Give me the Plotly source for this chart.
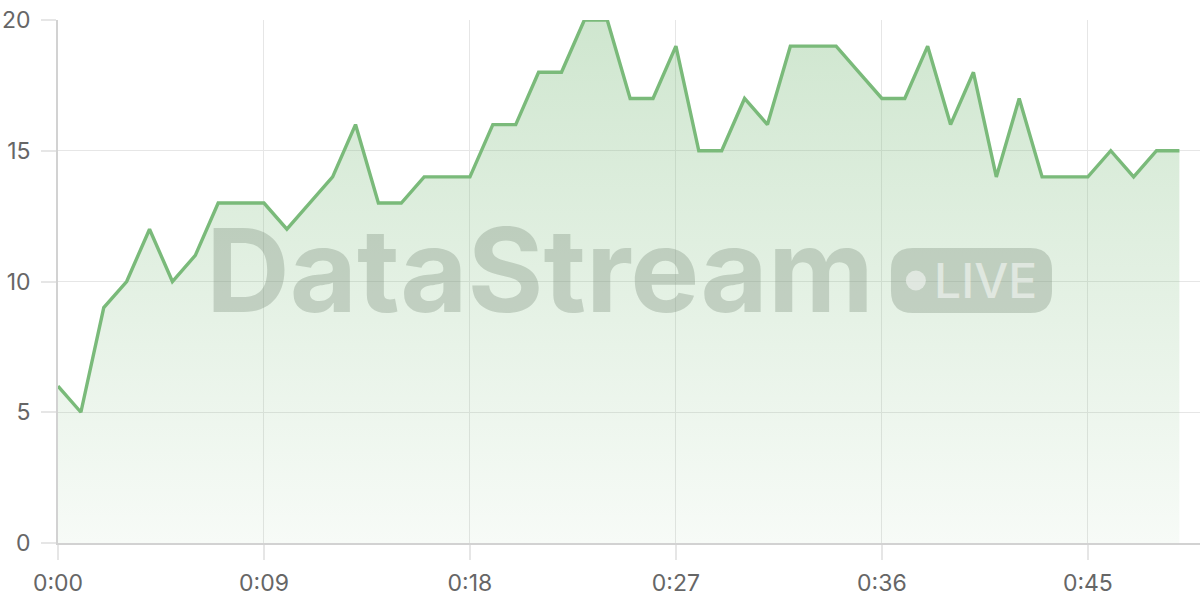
import plotly.graph_objects as go

# seconds since start and the sampled values
seconds = list(range(50))
values = [6, 5, 9, 10, 12, 10, 11, 13, 13, 13,
          12, 13, 14, 16, 13, 13, 14, 14, 14, 16,
          16, 18, 18, 20, 20, 17, 17, 19, 15, 15,
          17, 16, 19, 19, 19, 18, 17, 17, 19, 16,
          18, 14, 17, 14, 14, 14, 15, 14, 15, 15]
tick_vals = [0, 9, 18, 27, 36, 45]
tick_text = ["0:00", "0:09", "0:18", "0:27", "0:36", "0:45"]

line_green = "#7aba7a"
grid = "#e6e6e6"
mark = "rgba(120,140,120,0.33)"

fig = go.Figure()
fig.add_trace(go.Scatter(
    x=seconds, y=values, mode="lines",
    line=dict(color=line_green, width=3.4, shape="linear"),
    fill="tozeroy",
    fillgradient=dict(
        type="vertical",
        colorscale=[[0, "rgba(122,186,122,0.06)"], [1, "rgba(122,186,122,0.36)"]],
        start=0, stop=20),
    hoverinfo="skip", showlegend=False,
))

# watermark
fig.add_annotation(
    text="DataStream", x=0.422, y=0.522, xref="paper", yref="paper",
    showarrow=False, xanchor="center", yanchor="middle",
    font=dict(family="Inter", size=116, color=mark, weight=700),
)
pill = ("M -58.5,-32.5 L 58.5,-32.5 Q 80.5,-32.5 80.5,-10.5 L 80.5,10.5 "
        "Q 80.5,32.5 58.5,32.5 L -58.5,32.5 Q -80.5,32.5 -80.5,10.5 "
        "L -80.5,-10.5 Q -80.5,-32.5 -58.5,-32.5 Z")
fig.add_shape(type="path", path=pill, xref="paper", yref="paper",
              xsizemode="pixel", ysizemode="pixel", xanchor=0.7999, yanchor=0.5019,
              fillcolor=mark, line=dict(width=0), layer="above")
fig.add_shape(type="circle", xref="paper", yref="paper",
              xsizemode="pixel", ysizemode="pixel", xanchor=0.7512, yanchor=0.5019,
              x0=-10, x1=10, y0=-10, y1=10,
              fillcolor="rgba(255,255,255,0.5)", line=dict(width=0), layer="above")
fig.add_annotation(
    text="LIVE", x=0.8126, y=0.5019, xref="paper", yref="paper",
    showarrow=False, xanchor="center", yanchor="middle",
    font=dict(family="Inter", size=48, color="rgba(255,255,255,0.5)", weight=500),
)

fig.update_layout(
    width=1200, height=600,
    margin=dict(l=58, r=0, t=20, b=57),
    paper_bgcolor="white", plot_bgcolor="white",
    font=dict(family="Inter", size=23, color="#666666"),
    xaxis=dict(range=[0, 49.9], tickvals=tick_vals, ticktext=tick_text,
               showgrid=True, gridcolor=grid, gridwidth=1.3,
               ticks="outside", ticklen=15, tickcolor=grid, tickwidth=1.6,
               showline=True, linecolor="#d2d2d2", linewidth=1.6,
               zeroline=False, ticklabelstandoff=4),
    yaxis=dict(range=[0, 20], tickvals=[0, 5, 10, 15, 20],
               showgrid=True, gridcolor=grid, gridwidth=1.3,
               ticks="outside", ticklen=15, tickcolor=grid, tickwidth=1.6,
               showline=True, linecolor="#d2d2d2", linewidth=1.6,
               zeroline=False, ticklabelstandoff=6),
)

# page has a default body margin; drop it so the figure sits at 0,0
fig.write_html("out.html", config={"displayModeBar": False},
               post_script="document.body.style.margin='0';document.body.style.overflow='hidden';")
